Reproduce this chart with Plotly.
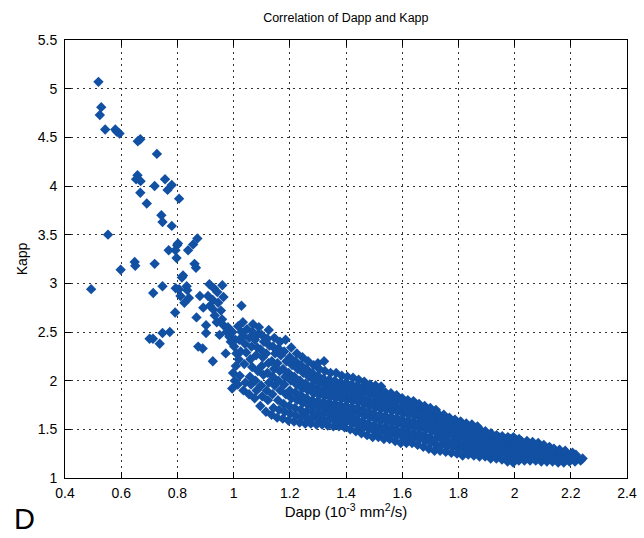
import plotly.graph_objects as go

# Sparse upper-left points (Dapp, Kapp)
sparse_points = [
    (0.519, 5.07), (0.529, 4.81), (0.524, 4.73), (0.543, 4.58), (0.579, 4.58), (0.584, 4.56),
    (0.594, 4.54), (0.659, 4.46), (0.668, 4.48), (0.727, 4.33), (0.658, 4.11), (0.653, 4.07),
    (0.669, 4.05), (0.668, 3.93), (0.719, 4.00), (0.756, 4.07), (0.765, 3.96), (0.780, 4.01),
    (0.806, 3.87), (0.691, 3.82), (0.743, 3.70), (0.747, 3.63), (0.780, 3.59), (0.553, 3.50),
    (0.802, 3.41), (0.799, 3.39), (0.871, 3.46), (0.856, 3.40), (0.769, 3.34), (0.793, 3.34),
    (0.838, 3.34), (0.797, 3.26), (0.648, 3.22), (0.650, 3.18), (0.719, 3.20), (0.861, 3.20),
    (0.866, 3.16), (0.598, 3.14), (0.816, 3.06), (0.493, 2.94), (0.747, 2.97), (0.714, 2.90),
    (0.794, 2.95), (0.806, 2.94), (0.833, 2.97), (0.835, 2.93), (0.811, 2.87), (0.841, 2.85),
    (0.825, 2.80), (0.880, 2.87), (0.914, 2.99), (0.930, 2.95), (0.942, 2.91), (0.960, 2.98),
    (0.964, 2.86), (0.909, 2.87), (0.926, 2.83), (0.892, 2.75), (0.916, 2.77), (0.928, 2.73),
    (1.028, 2.77), (0.792, 2.70), (0.868, 2.65), (0.933, 2.67), (0.902, 2.57), (0.959, 2.63),
    (0.964, 2.57), (1.033, 2.60), (1.069, 2.58), (0.902, 2.49), (0.701, 2.43), (0.713, 2.43),
    (0.737, 2.38), (0.747, 2.49), (0.773, 2.50), (0.874, 2.35), (0.890, 2.33), (0.972, 2.28),
    (0.926, 2.20), (0.945, 2.80), (0.955, 2.72), (0.975, 2.50), (0.985, 2.45), (0.990, 2.40),
    (0.950, 2.47), (0.980, 2.55), (0.940, 2.60), (0.820, 3.08),
]

# Dense band, x 1.0 - 1.5
band_points_a = [
    (0.995, 1.92), (1.004, 2.00), (0.998, 2.08), (1.008, 2.15), (1.002, 2.35), (1.006, 2.42), (0.996, 2.50), (1.010, 2.28),
    (1.015, 1.96), (1.022, 2.05), (1.018, 2.22), (1.025, 2.30), (1.020, 2.42), (1.028, 2.50), (1.016, 2.56),
    (1.035, 1.90), (1.042, 1.98), (1.038, 2.17), (1.045, 2.29), (1.040, 2.38), (1.036, 2.46), (1.048, 2.53),
    (1.055, 1.86), (1.062, 1.96), (1.058, 2.04), (1.066, 2.14), (1.060, 2.22), (1.064, 2.35), (1.056, 2.44), (1.068, 2.50),
    (1.075, 1.82), (1.082, 1.90), (1.078, 2.00), (1.086, 2.10), (1.080, 2.26), (1.084, 2.34), (1.076, 2.42), (1.088, 2.48), (1.090, 2.55),
    (1.095, 1.74), (1.102, 1.84), (1.098, 1.95), (1.106, 2.06), (1.100, 2.15), (1.104, 2.24), (1.096, 2.32), (1.108, 2.40), (1.100, 2.47),
    (1.115, 1.68), (1.122, 1.80), (1.118, 1.90), (1.126, 1.98), (1.120, 2.08), (1.124, 2.18), (1.116, 2.28), (1.128, 2.36), (1.120, 2.43), (1.125, 2.52),
    (1.135, 1.65), (1.142, 1.72), (1.138, 1.86), (1.146, 1.95), (1.140, 2.04), (1.144, 2.12), (1.136, 2.20), (1.148, 2.28), (1.140, 2.35), (1.145, 2.44),
    (1.155, 1.62), (1.162, 1.70), (1.158, 1.80), (1.166, 1.90), (1.160, 2.00), (1.164, 2.10), (1.156, 2.18), (1.168, 2.26), (1.160, 2.33), (1.165, 2.40),
    (1.175, 1.61), (1.182, 1.68), (1.178, 1.76), (1.186, 1.86), (1.180, 1.96), (1.184, 2.04), (1.176, 2.12), (1.188, 2.20), (1.180, 2.30), (1.185, 2.42),
    (1.195, 1.59), (1.202, 1.66), (1.198, 1.74), (1.206, 1.82), (1.200, 1.90), (1.204, 2.00), (1.196, 2.08), (1.208, 2.16), (1.200, 2.24), (1.205, 2.34),
    (1.215, 1.58), (1.222, 1.64), (1.218, 1.72), (1.226, 1.80), (1.220, 1.88), (1.224, 1.96), (1.216, 2.04), (1.228, 2.12), (1.220, 2.20), (1.225, 2.28),
    (1.235, 1.57), (1.242, 1.63), (1.238, 1.70), (1.246, 1.77), (1.240, 1.85), (1.244, 1.92), (1.236, 2.00), (1.248, 2.08), (1.240, 2.16), (1.245, 2.24),
    (1.255, 1.56), (1.262, 1.62), (1.258, 1.68), (1.266, 1.75), (1.260, 1.82), (1.264, 1.90), (1.256, 1.97), (1.268, 2.04), (1.260, 2.12), (1.265, 2.20),
    (1.275, 1.56), (1.282, 1.62), (1.278, 1.68), (1.286, 1.74), (1.280, 1.80), (1.284, 1.87), (1.276, 1.94), (1.288, 2.00), (1.280, 2.08), (1.285, 2.16),
    (1.295, 1.55), (1.302, 1.61), (1.298, 1.67), (1.306, 1.73), (1.300, 1.79), (1.304, 1.85), (1.296, 1.92), (1.308, 1.98), (1.300, 2.05), (1.305, 2.12), (1.300, 2.18),
    (1.315, 1.55), (1.322, 1.60), (1.318, 1.66), (1.326, 1.72), (1.320, 1.78), (1.324, 1.84), (1.316, 1.90), (1.328, 1.96), (1.320, 2.02), (1.325, 2.10), (1.322, 2.20),
    (1.335, 1.54), (1.342, 1.60), (1.338, 1.66), (1.346, 1.71), (1.340, 1.77), (1.344, 1.83), (1.336, 1.89), (1.348, 1.95), (1.340, 2.01), (1.345, 2.08),
    (1.355, 1.53), (1.362, 1.59), (1.358, 1.65), (1.366, 1.70), (1.360, 1.76), (1.364, 1.82), (1.356, 1.88), (1.368, 1.94), (1.360, 2.00), (1.365, 2.08),
    (1.375, 1.53), (1.382, 1.58), (1.378, 1.64), (1.386, 1.69), (1.380, 1.75), (1.384, 1.81), (1.376, 1.87), (1.388, 1.93), (1.380, 1.98), (1.385, 2.05),
    (1.395, 1.52), (1.402, 1.58), (1.398, 1.63), (1.406, 1.68), (1.400, 1.74), (1.404, 1.80), (1.396, 1.86), (1.408, 1.92), (1.400, 1.98), (1.405, 2.04),
    (1.415, 1.50), (1.422, 1.56), (1.418, 1.62), (1.426, 1.67), (1.420, 1.73), (1.424, 1.79), (1.416, 1.84), (1.428, 1.90), (1.420, 1.96), (1.425, 2.03),
    (1.435, 1.48), (1.442, 1.54), (1.438, 1.60), (1.446, 1.66), (1.440, 1.72), (1.444, 1.78), (1.436, 1.83), (1.448, 1.89), (1.440, 1.95), (1.445, 2.01),
    (1.455, 1.46), (1.462, 1.52), (1.458, 1.58), (1.466, 1.64), (1.460, 1.70), (1.464, 1.76), (1.456, 1.82), (1.468, 1.88), (1.460, 1.94), (1.465, 1.99),
    (1.475, 1.44), (1.482, 1.50), (1.478, 1.56), (1.486, 1.62), (1.480, 1.68), (1.484, 1.74), (1.476, 1.80), (1.488, 1.86), (1.480, 1.92), (1.485, 1.96),
]

# Dense band, x 1.5 - 2.25
band_points_b = [
    (1.495, 1.42), (1.502, 1.48), (1.498, 1.54), (1.506, 1.60), (1.500, 1.66), (1.504, 1.72), (1.496, 1.78), (1.508, 1.84), (1.500, 1.90), (1.505, 1.95),
    (1.515, 1.42), (1.522, 1.47), (1.518, 1.53), (1.526, 1.59), (1.520, 1.65), (1.524, 1.71), (1.516, 1.77), (1.528, 1.83), (1.520, 1.89), (1.525, 1.94),
    (1.535, 1.40), (1.542, 1.46), (1.538, 1.52), (1.546, 1.58), (1.540, 1.64), (1.544, 1.70), (1.536, 1.76), (1.548, 1.82), (1.540, 1.88),
    (1.555, 1.40), (1.562, 1.45), (1.558, 1.51), (1.566, 1.57), (1.560, 1.63), (1.564, 1.69), (1.556, 1.75), (1.568, 1.81), (1.560, 1.87),
    (1.575, 1.38), (1.582, 1.44), (1.578, 1.50), (1.586, 1.56), (1.580, 1.62), (1.584, 1.68), (1.576, 1.74), (1.588, 1.80), (1.580, 1.85),
    (1.595, 1.36), (1.602, 1.42), (1.598, 1.48), (1.606, 1.54), (1.600, 1.60), (1.604, 1.66), (1.596, 1.72), (1.608, 1.77), (1.600, 1.82),
    (1.615, 1.36), (1.622, 1.41), (1.618, 1.47), (1.626, 1.53), (1.620, 1.59), (1.624, 1.65), (1.616, 1.70), (1.628, 1.75), (1.620, 1.80),
    (1.635, 1.36), (1.642, 1.41), (1.638, 1.46), (1.646, 1.52), (1.640, 1.58), (1.644, 1.64), (1.636, 1.69), (1.648, 1.74), (1.640, 1.79),
    (1.655, 1.34), (1.662, 1.40), (1.658, 1.45), (1.666, 1.51), (1.660, 1.57), (1.664, 1.62), (1.656, 1.67), (1.668, 1.72), (1.660, 1.76),
    (1.675, 1.32), (1.682, 1.38), (1.678, 1.44), (1.686, 1.50), (1.680, 1.55), (1.684, 1.60), (1.676, 1.65), (1.688, 1.70), (1.680, 1.74),
    (1.695, 1.30), (1.702, 1.36), (1.698, 1.42), (1.706, 1.48), (1.700, 1.54), (1.704, 1.59), (1.696, 1.64), (1.708, 1.68), (1.700, 1.72),
    (1.715, 1.28), (1.722, 1.34), (1.718, 1.40), (1.726, 1.46), (1.720, 1.52), (1.724, 1.57), (1.716, 1.62), (1.728, 1.66), (1.720, 1.70),
    (1.735, 1.28), (1.742, 1.34), (1.738, 1.40), (1.746, 1.45), (1.740, 1.50), (1.744, 1.55), (1.736, 1.60), (1.748, 1.65),
    (1.755, 1.27), (1.762, 1.33), (1.758, 1.38), (1.766, 1.44), (1.760, 1.49), (1.764, 1.54), (1.756, 1.58), (1.768, 1.62),
    (1.775, 1.26), (1.782, 1.32), (1.778, 1.37), (1.786, 1.42), (1.780, 1.48), (1.784, 1.53), (1.776, 1.57), (1.788, 1.60),
    (1.795, 1.25), (1.802, 1.30), (1.798, 1.36), (1.806, 1.41), (1.800, 1.46), (1.804, 1.51), (1.796, 1.55), (1.808, 1.58),
    (1.815, 1.23), (1.822, 1.29), (1.818, 1.34), (1.826, 1.40), (1.820, 1.45), (1.824, 1.50), (1.816, 1.54), (1.828, 1.56),
    (1.835, 1.24), (1.842, 1.29), (1.838, 1.34), (1.846, 1.39), (1.840, 1.44), (1.844, 1.48), (1.836, 1.52), (1.848, 1.55),
    (1.855, 1.23), (1.862, 1.28), (1.858, 1.33), (1.866, 1.38), (1.860, 1.43), (1.864, 1.47), (1.856, 1.51), (1.868, 1.53),
    (1.875, 1.22), (1.882, 1.27), (1.878, 1.32), (1.886, 1.37), (1.880, 1.41), (1.884, 1.46), (1.876, 1.50),
    (1.895, 1.22), (1.902, 1.26), (1.898, 1.31), (1.906, 1.36), (1.900, 1.40), (1.904, 1.44), (1.896, 1.48),
    (1.915, 1.20), (1.922, 1.25), (1.918, 1.30), (1.926, 1.34), (1.920, 1.39), (1.924, 1.43), (1.916, 1.46),
    (1.935, 1.20), (1.942, 1.25), (1.938, 1.29), (1.946, 1.33), (1.940, 1.38), (1.944, 1.42), (1.936, 1.44),
    (1.955, 1.19), (1.962, 1.24), (1.958, 1.28), (1.966, 1.33), (1.960, 1.37), (1.964, 1.40), (1.956, 1.43),
    (1.975, 1.17), (1.982, 1.22), (1.978, 1.27), (1.986, 1.32), (1.980, 1.36), (1.984, 1.40), (1.976, 1.42),
    (1.995, 1.16), (2.002, 1.21), (1.998, 1.26), (2.006, 1.30), (2.000, 1.35), (2.004, 1.39), (1.996, 1.42),
    (2.015, 1.18), (2.022, 1.22), (2.018, 1.26), (2.026, 1.30), (2.020, 1.34), (2.024, 1.38), (2.016, 1.40),
    (2.035, 1.18), (2.042, 1.22), (2.038, 1.26), (2.046, 1.30), (2.040, 1.34), (2.044, 1.38),
    (2.055, 1.18), (2.062, 1.22), (2.058, 1.26), (2.066, 1.29), (2.060, 1.33), (2.064, 1.37),
    (2.075, 1.18), (2.082, 1.21), (2.078, 1.25), (2.086, 1.29), (2.080, 1.32), (2.084, 1.36),
    (2.095, 1.17), (2.102, 1.21), (2.098, 1.24), (2.106, 1.28), (2.100, 1.31), (2.104, 1.34),
    (2.115, 1.17), (2.122, 1.20), (2.118, 1.24), (2.126, 1.27), (2.120, 1.30), (2.124, 1.32),
    (2.135, 1.17), (2.142, 1.20), (2.138, 1.23), (2.146, 1.26), (2.140, 1.30),
    (2.155, 1.16), (2.162, 1.19), (2.158, 1.22), (2.166, 1.25), (2.160, 1.29),
    (2.175, 1.16), (2.182, 1.19), (2.178, 1.22), (2.186, 1.25), (2.180, 1.28),
    (2.195, 1.17), (2.202, 1.20), (2.198, 1.23), (2.206, 1.26),
    (2.215, 1.17), (2.222, 1.20), (2.218, 1.24),
    (2.235, 1.18), (2.242, 1.20),
]

x_ticks = [0.4, 0.6, 0.8, 1.0, 1.2, 1.4, 1.6, 1.8, 2.0, 2.2, 2.4]
x_tick_labels = ["0.4", "0.6", "0.8", "1", "1.2", "1.4", "1.6", "1.8", "2", "2.2", "2.4"]
y_ticks = [1, 1.5, 2, 2.5, 3, 3.5, 4, 4.5, 5, 5.5]
y_tick_labels = ["1", "1.5", "2", "2.5", "3", "3.5", "4", "4.5", "5", "5.5"]

all_points = sparse_points + band_points_a + band_points_b
dapp = [p[0] for p in all_points]
kapp = [p[1] for p in all_points]

FONT = "Liberation Sans, Arial, sans-serif"

fig = go.Figure()
fig.add_trace(go.Scatter(
    x=dapp, y=kapp, mode="markers",
    marker=dict(symbol="diamond", size=8, color="#1150a2", line=dict(width=0)),
    hoverinfo="x+y", showlegend=False,
))

axis_common = dict(
    showline=True, linecolor="black", linewidth=1, mirror="ticks",
    ticks="inside", ticklen=6, tickcolor="black",
    showgrid=True, gridcolor="#333333", gridwidth=1, griddash="2px,4px",
    zeroline=False, tickfont=dict(family=FONT, size=14, color="black"),
)

fig.update_xaxes(range=[0.4, 2.4], tickvals=x_ticks, ticktext=x_tick_labels,
                 ticklabelstandoff=2,
                 title=dict(text="Dapp (10<sup>-3</sup> mm<sup>2</sup>/s)",
                            font=dict(family=FONT, size=15, color="black"), standoff=4),
                 **axis_common)
fig.update_yaxes(range=[1, 5.5], tickvals=y_ticks, ticktext=y_tick_labels,
                 ticklabelstandoff=4,
                 title=dict(text="Kapp", font=dict(family=FONT, size=14, color="black"), standoff=6),
                 **axis_common)

fig.update_layout(
    width=644, height=538,
    margin=dict(l=65, r=17, t=40, b=60, autoexpand=False),
    paper_bgcolor="white", plot_bgcolor="white",
    title=dict(text="Correlation of Dapp and Kapp", x=0.537, xanchor="center",
               y=0.9665, yanchor="middle", font=dict(family=FONT, size=12.5, color="black")),
    annotations=[dict(text="D", xref="paper", yref="paper", x=-0.095, y=-0.094,
                      xanchor="left", yanchor="middle", showarrow=False,
                      font=dict(family=FONT, size=29, color="black"))],
)

fig.write_html("out.html", config={"displayModeBar": False},
               post_script="document.body.style.margin='0';")
